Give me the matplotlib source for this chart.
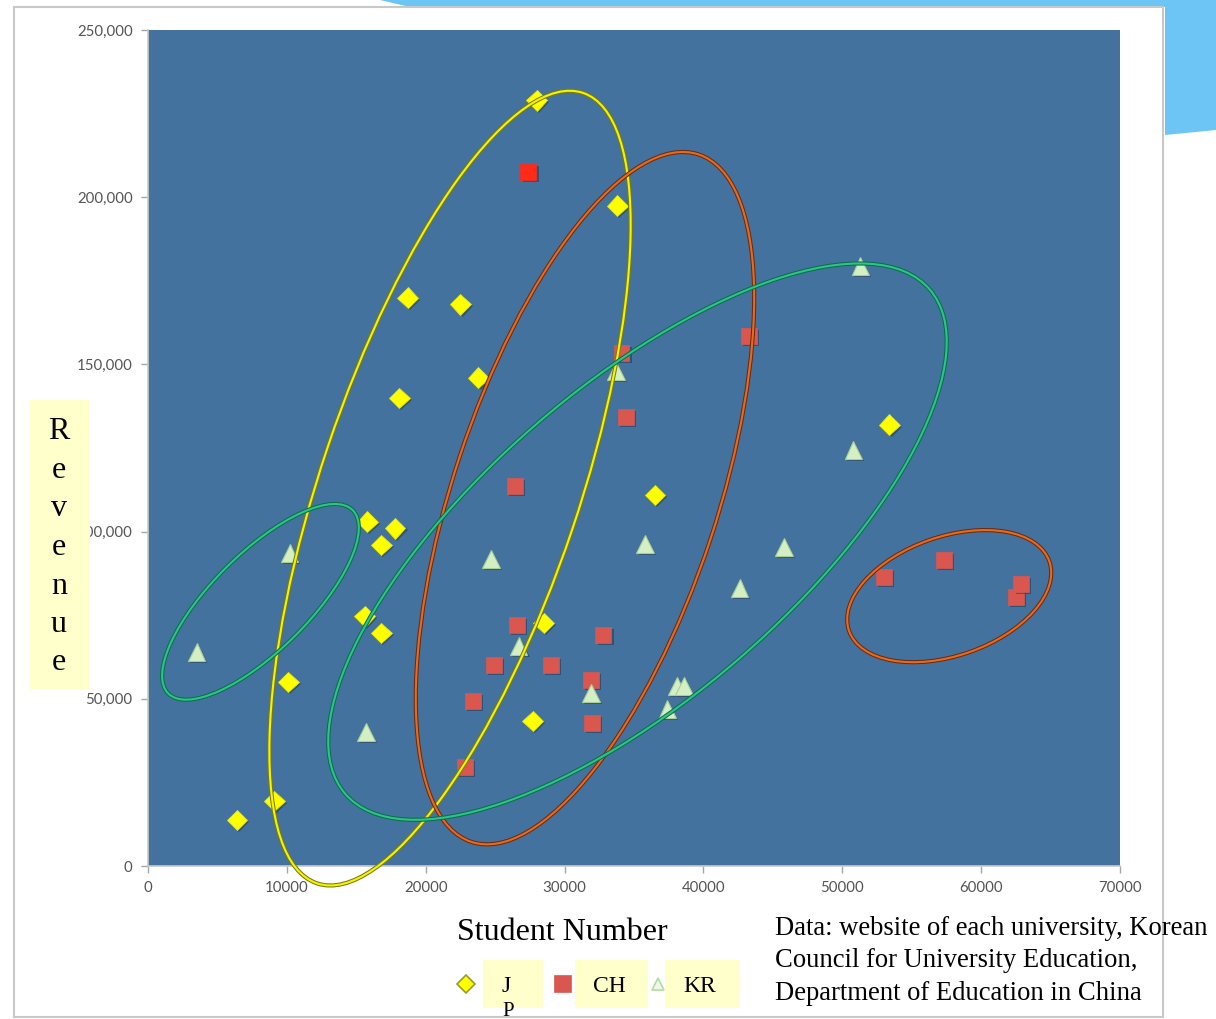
import numpy as np
import matplotlib
matplotlib.use('Agg')
import matplotlib.pyplot as plt
import matplotlib.patheffects as pe
from matplotlib.patches import Ellipse, Rectangle, Polygon
from matplotlib.transforms import ScaledTranslation
from matplotlib.lines import Line2D
from matplotlib.ticker import FuncFormatter

W, H = 1216, 1019

# student number / revenue per university
jp_students = [28000, 33800, 18700, 22500, 23800, 18100, 53400, 36500, 15800,
               17800, 16800, 15600, 16800, 28500, 10100, 27700, 9100, 6400]
jp_revenue = [229000, 197500, 170000, 168000, 146000, 140000, 132000, 111000, 103000,
              101000, 96000, 74700, 69700, 72700, 55000, 43400, 19400, 13800]

ch_students = [27400, 43300, 34100, 34400, 26400, 26600, 32800, 24900, 29000,
               31900, 23400, 32000, 22800, 53000, 57300, 62500, 62900]
ch_revenue = [207500, 158500, 153400, 134300, 113600, 72000, 69000, 60100, 60100,
              55600, 49300, 42800, 29600, 86400, 91500, 80400, 84300]
ch_highlight = 0  # the bright red one

kr_students = [51300, 33700, 50800, 35800, 45800, 10200, 24700, 42600, 3500,
               26700, 31900, 38100, 38600, 37400, 15700]
kr_revenue = [179400, 148000, 124400, 96300, 95400, 93600, 91800, 83100, 64000,
              65800, 51700, 53800, 53800, 47000, 40100]

x_ticks = [0, 10000, 20000, 30000, 40000, 50000, 60000, 70000]
y_ticks = [0, 50000, 100000, 150000, 200000, 250000]

# hand drawn group ellipses: centre (data), semi axes (px), angle (deg), colour
groups = [
    (21750, 113000, 417, 129, 71.4, '#f4f400', '#7a7a10'),
    (31470, 110000, 362, 132, 71.7, '#ea6a1c', '#6a2a10'),
    (35250, 97000, 386, 155, 40.8, '#2cc488', '#0b6e48'),
    (8100, 79000, 130, 48.5, 44.8, '#2cc488', '#0b6e48'),
    (57700, 80700, 106, 59.5, 19.1, '#ea6a1c', '#6a2a10'),
]

source = ["Data: website of each university, Korean",
          "Council for University Education,",
          "Department of Education in China"]


def px(x, y):
    return x / W, 1 - y / H


fig = plt.figure(figsize=(W / 100, H / 100), dpi=100)
fig.patch.set_facecolor('white')

# slide decoration in the top right corner
bg = Polygon([px(380, 0), px(1216, 0), px(1216, 130), px(1165, 135),
              px(1165, 7), px(410, 7)], closed=True, transform=fig.transFigure,
             facecolor='#6cc5f4', edgecolor='none', zorder=-3)
fig.add_artist(bg)
frame = Rectangle(px(14, 1017), 1149 / W, 1010 / H, transform=fig.transFigure,
                  facecolor='white', edgecolor='#c8c8c8', lw=1.5, zorder=-2)
fig.add_artist(frame)

ax = fig.add_axes([148 / W, 1 - 866 / H, 972 / W, 836 / H])
ax.set_facecolor('#44729f')
ax.set_xlim(0, 70000)
ax.set_ylim(0, 250000)
ax.set_xticks(x_ticks)
ax.set_yticks(y_ticks)
ax.yaxis.set_major_formatter(FuncFormatter(lambda v, p: '{:,.0f}'.format(v)))
ax.xaxis.set_major_formatter(FuncFormatter(lambda v, p: '%d' % v))
for s in ['top', 'right']:
    ax.spines[s].set_visible(False)
for s in ['left', 'bottom']:
    ax.spines[s].set_color('#c8c8c8')
    ax.spines[s].set_linewidth(1.2)
ax.tick_params(length=5, width=1, color='#a6a6a6', labelcolor='#555555',
               labelsize=10.8, pad=6)
for lbl in ax.get_xticklabels() + ax.get_yticklabels():
    lbl.set_family('Lato')

shadow = [pe.SimplePatchShadow(offset=(1.5, -1.5), shadow_rgbFace='#1c3550', alpha=0.5),
          pe.Normal()]

ax.plot(jp_students, jp_revenue, linestyle='none', marker='D', ms=10.5,
        mfc='#ffff00', mec='#e6e600', mew=0.6, zorder=4, path_effects=shadow)
ch_colors = ['#d9574e'] * len(ch_students)
ch_colors[ch_highlight] = '#ff2a18'
for xs, ys, c in zip(ch_students, ch_revenue, ch_colors):
    ax.plot([xs], [ys], linestyle='none', marker='s', ms=11.5, mfc=c,
            mec=c, mew=0.5, zorder=4, path_effects=shadow)
ax.plot(kr_students, kr_revenue, linestyle='none', marker='^', ms=12.5,
        mfc='#d4efc4', mec='#a9cf95', mew=0.8, zorder=4, path_effects=shadow)

for cx, cy, a, b, ang, col, dark in groups:
    tr = fig.dpi_scale_trans + ScaledTranslation(cx, cy, ax.transData)
    for lw, c in [(3.0, dark), (1.5, col)]:
        e = Ellipse((0, 0), 2 * a / 100, 2 * b / 100, angle=ang, transform=tr,
                    fill=False, edgecolor=c, lw=lw, zorder=5, clip_on=False)
        ax.add_artist(e)

# "Revenue" label box
serif = 'Liberation Serif'
fig.add_artist(Rectangle(px(29, 690), 61 / W, 290 / H, transform=fig.transFigure,
                         facecolor='#ffffcc', edgecolor='none', zorder=6))
for i, ch in enumerate('Revenue'):
    fig.text(*px(59, 432 + i * 38.5), ch, family=serif, fontsize=23,
             ha='center', va='center', zorder=7)

fig.text(*px(457, 940), 'Student Number', family=serif, fontsize=23,
         ha='left', va='baseline')

for i, line in enumerate(source):
    fig.text(*px(775, 935 + i * 32.3), line, family=serif, fontsize=19.2,
             ha='left', va='baseline')

# legend
boxes = [(483, 60, '#ffff00', 'D', '#9a9a30', 466),
         (575, 73, '#d9574e', 's', '#d9574e', 563),
         (665, 75, '#eef8e8', '^', '#b4dca0', 658)]
for x0, w, fc, mk, ec, mx in boxes:
    fig.add_artist(Rectangle(px(x0, 1008), w / W, 48 / H, transform=fig.transFigure,
                             facecolor='#ffffcc', edgecolor='none', zorder=6))
    fig.add_artist(Line2D([mx / W], [1 - 984 / H], transform=fig.transFigure,
                          marker=mk, ms=9 if mk != 's' else 11, mfc=fc, mec=ec,
                          mew=1.2, linestyle='none', zorder=7))
fig.text(*px(506, 992), 'J', family=serif, fontsize=17, ha='center',
         va='baseline', zorder=7)
fig.text(*px(508, 1016), 'P', family=serif, fontsize=15, ha='center',
         va='baseline', zorder=7)
fig.text(*px(609, 992), 'CH', family=serif, fontsize=17, ha='center',
         va='baseline', zorder=7)
fig.text(*px(700, 992), 'KR', family=serif, fontsize=17, ha='center',
         va='baseline', zorder=7)

fig.savefig('out.png', dpi=100)
